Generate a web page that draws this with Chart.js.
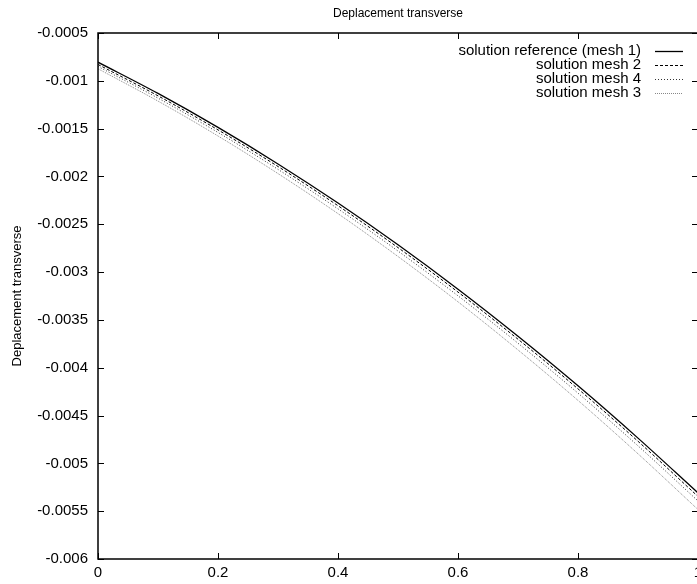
<!DOCTYPE html>
<html>
<head>
<meta charset="utf-8">
<script src="https://cdn.jsdelivr.net/npm/chart.js@4/dist/chart.umd.min.js"></script>
<style>
  html, body { margin: 0; padding: 0; background: #fff; overflow: hidden; }
  #wrap { width: 697px; height: 584px; overflow: hidden; }
</style>
</head>
<body>
<div id="wrap"><canvas id="myChart" width="702" height="584"></canvas></div>
<script>
// abscissa of the data points
var xs = [0, 0.1, 0.2, 0.3, 0.4, 0.5, 0.6, 0.7, 0.8, 0.9, 1];

var meshRef = [-0.000805, -0.001132, -0.001487, -0.001869, -0.002278, -0.002715, -0.003179, -0.003671, -0.004189, -0.004736, -0.005309];
var mesh2 = [-0.000829, -0.001157, -0.001513, -0.001896, -0.002306, -0.002744, -0.003209, -0.003702, -0.004221, -0.004769, -0.005346];
var mesh4 = [-0.000850, -0.001181, -0.001540, -0.001926, -0.002339, -0.002780, -0.003248, -0.003744, -0.004266, -0.004817, -0.005393];
var mesh3 = [-0.000874, -0.001212, -0.001577, -0.001970, -0.002389, -0.002837, -0.003311, -0.003814, -0.004342, -0.004900, -0.005483];

var names = ["solution reference (mesh 1)", "solution mesh 2", "solution mesh 4", "solution mesh 3"];
var xTicks = [0, 0.2, 0.4, 0.6, 0.8, 1];
var yTicks = [-0.0005, -0.001, -0.0015, -0.002, -0.0025, -0.003, -0.0035, -0.004, -0.0045, -0.005, -0.0055, -0.006];

var FONT = "'Liberation Sans', Arial, Helvetica, sans-serif";
var styles = [
    { color: '#000', width: 1.3, dash: [] },
    { color: '#000', width: 1, dash: [3, 2] },
    { color: '#333', width: 1, dash: [1, 2] },
    { color: '#888', width: 1, dash: [1, 1] }
];

function pts(arr) {
    return xs.map(function (x, k) { return { x: x, y: arr[k] }; });
}
function fmt(v) {
    return String(parseFloat(v.toFixed(6)));
}

var series = [meshRef, mesh2, mesh4, mesh3];
var datasets = series.map(function (s, k) {
    return {
        label: names[k],
        data: pts(s),
        borderColor: styles[k].color,
        borderWidth: styles[k].width,
        borderDash: styles[k].dash,
        pointRadius: 0,
        fill: false,
        cubicInterpolationMode: 'monotone'
    };
});

// gnuplot style frame, inward ticks and key
var frame = {
    id: 'frame',
    afterDatasetsDraw: function (chart) {
        var ctx = chart.ctx, a = chart.chartArea;
        var sx = chart.scales.x, sy = chart.scales.y;
        ctx.save();
        ctx.strokeStyle = '#000';
        ctx.lineWidth = 1.5;
        ctx.setLineDash([]);
        ctx.strokeRect(a.left, a.top, a.right - a.left, a.bottom - a.top);
        ctx.lineWidth = 1;
        var L = 6;
        ctx.beginPath();
        xTicks.forEach(function (v) {
            var px = Math.round(sx.getPixelForValue(v)) + 0.5;
            ctx.moveTo(px, a.bottom); ctx.lineTo(px, a.bottom - L);
            ctx.moveTo(px, a.top); ctx.lineTo(px, a.top + L);
        });
        yTicks.forEach(function (v) {
            var py = Math.round(sy.getPixelForValue(v)) + 0.5;
            ctx.moveTo(a.left, py); ctx.lineTo(a.left + L, py);
            ctx.moveTo(a.right, py); ctx.lineTo(a.right - L, py);
        });
        ctx.stroke();

        // key
        ctx.font = '15px ' + FONT;
        ctx.fillStyle = '#000';
        ctx.textAlign = 'right';
        ctx.textBaseline = 'middle';
        var rows = [51, 65, 79, 93];
        names.forEach(function (n, k) {
            ctx.fillText(n, 641, rows[k]);
            ctx.beginPath();
            ctx.strokeStyle = styles[k].color;
            ctx.lineWidth = styles[k].width;
            ctx.setLineDash(styles[k].dash);
            ctx.moveTo(655, rows[k] + 0.5);
            ctx.lineTo(683, rows[k] + 0.5);
            ctx.stroke();
        });
        ctx.restore();
    }
};

function noPad(s) {
    s.paddingLeft = 0; s.paddingRight = 0; s.paddingTop = 0; s.paddingBottom = 0;
}

var ctx = document.getElementById('myChart').getContext('2d');
var chart = new Chart(ctx, {
    type: 'line',
    data: { datasets: datasets },
    options: {
        responsive: false,
        animation: false,
        layout: { padding: { left: 0, right: 4, top: 0, bottom: 0 } },
        plugins: {
            legend: { display: false },
            tooltip: { enabled: false },
            title: {
                display: true,
                text: 'Deplacement transverse',
                color: '#000',
                fullSize: false,
                font: { family: FONT, size: 12, weight: 'normal' },
                padding: { top: 6, bottom: 12.6 }
            }
        },
        scales: {
            x: {
                type: 'linear',
                min: 0,
                max: 1,
                grid: { display: false, drawTicks: false },
                border: { display: false },
                afterBuildTicks: function (s) { s.ticks = xTicks.map(function (v) { return { value: v }; }); },
                ticks: {
                    color: '#000',
                    font: { family: FONT, size: 15 },
                    padding: 5,
                    maxRotation: 0,
                    autoSkip: false,
                    callback: function (v) { return fmt(v); }
                },
                afterFit: function (s) { s.height = 25; noPad(s); }
            },
            y: {
                type: 'linear',
                min: -0.006,
                max: -0.0005,
                grid: { display: false, drawTicks: false },
                border: { display: false },
                afterBuildTicks: function (s) { s.ticks = yTicks.map(function (v) { return { value: v }; }); },
                ticks: {
                    color: '#000',
                    font: { family: FONT, size: 15 },
                    padding: 10,
                    autoSkip: false,
                    callback: function (v) { return fmt(v); }
                },
                title: {
                    display: true,
                    text: 'Deplacement transverse',
                    color: '#000',
                    font: { family: FONT, size: 13 },
                    padding: { top: 10, bottom: 0 }
                },
                afterFit: function (s) { s.width = 98; noPad(s); }
            }
        }
    },
    plugins: [frame]
});
</script>
</body>
</html>
